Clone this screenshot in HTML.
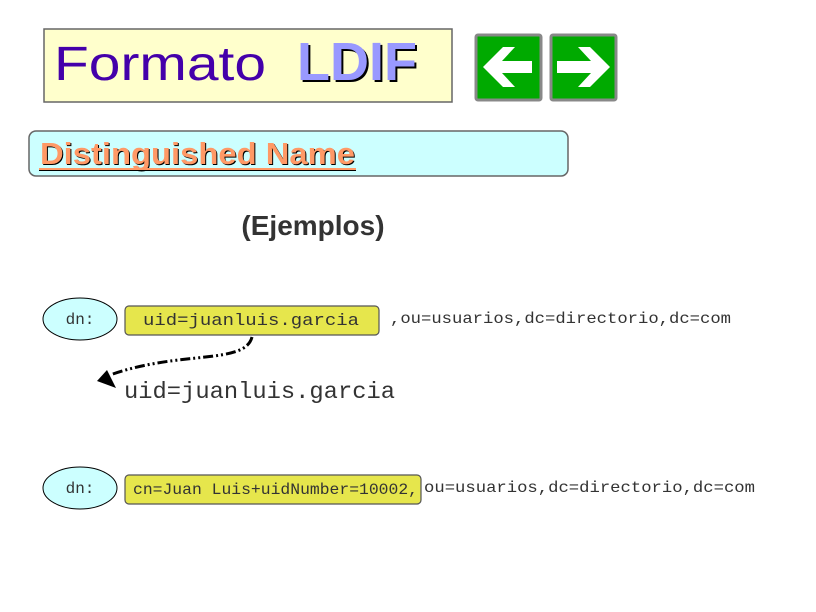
<!DOCTYPE html>
<html><head><meta charset="utf-8"><style>
html,body{margin:0;padding:0;background:#fff;width:816px;height:612px;overflow:hidden}
.m{font-family:"Liberation Mono","DejaVu Sans Mono",monospace}
.s{font-family:"Liberation Sans",sans-serif}
</style></head><body>
<svg width="816" height="612" viewBox="0 0 816 612" xmlns="http://www.w3.org/2000/svg">
<rect x="44" y="29" width="408" height="73" fill="#ffffcc" stroke="#666" stroke-width="1.5"/>
<text x="54" y="80" class="s" font-size="48" fill="#4400aa" textLength="212" lengthAdjust="spacingAndGlyphs">Formato</text>
<text x="299" y="82" class="s" font-size="54" font-weight="bold" fill="#000" textLength="120" lengthAdjust="spacingAndGlyphs">LDIF</text>
<text x="297" y="80" class="s" font-size="54" font-weight="bold" fill="#9999ff" textLength="120" lengthAdjust="spacingAndGlyphs">LDIF</text>
<rect x="476" y="35" width="65" height="65" rx="2" fill="#00aa00" stroke="#888" stroke-width="3"/>
<path d="M483,67 L503,47 L515,47 L502,61 L532,61 L532,73 L502,73 L515,87 L503,87 Z" fill="#fff"/>
<rect x="551" y="35" width="65" height="65" rx="2" fill="#00aa00" stroke="#888" stroke-width="3"/>
<path d="M610,67 L590,47 L578,47 L591,61 L557,61 L557,73 L591,73 L578,87 L590,87 Z" fill="#fff"/>
<rect x="29" y="131" width="539" height="45" rx="7" fill="#ccffff" stroke="#666" stroke-width="1.5"/>
<text x="41" y="165" class="s" font-size="31" font-weight="bold" fill="#000" textLength="315" lengthAdjust="spacingAndGlyphs">Distinguished Name</text>
<text x="40" y="164" class="s" font-size="31" font-weight="bold" fill="#ff9966" textLength="315" lengthAdjust="spacingAndGlyphs">Distinguished Name</text>
<rect x="39" y="168" width="317" height="2" fill="#ff9966"/>
<rect x="39" y="170" width="317" height="1" fill="#000"/>
<text x="313" y="235" text-anchor="middle" class="s" font-size="28" font-weight="bold" fill="#333">(Ejemplos)</text>

<ellipse cx="80" cy="319" rx="37" ry="21" fill="#ccffff" stroke="#000" stroke-width="1"/>
<text x="80" y="324" text-anchor="middle" class="m" font-size="16" fill="#333">dn:</text>
<rect x="125" y="306" width="254" height="29" rx="4" fill="#e6e64c" stroke="#555" stroke-width="1.2"/>
<text x="143" y="325" class="m" font-size="17" fill="#333" textLength="216" lengthAdjust="spacingAndGlyphs">uid=juanluis.garcia</text>
<text x="390" y="323" class="m" font-size="16" fill="#333" textLength="341" lengthAdjust="spacingAndGlyphs">,ou=usuarios,dc=directorio,dc=com</text>
<path d="M252,337 C245,365 180,350 110,375" fill="none" stroke="#000" stroke-width="3" stroke-dasharray="10,3,2,3,2,3"/>
<path d="M97,381 L107,370 L111,378 L116,388 Z" fill="#000"/>
<text x="124" y="398" class="m" font-size="23" fill="#333" textLength="271" lengthAdjust="spacingAndGlyphs">uid=juanluis.garcia</text>

<ellipse cx="80" cy="488" rx="37" ry="21" fill="#ccffff" stroke="#000" stroke-width="1"/>
<text x="80" y="493" text-anchor="middle" class="m" font-size="16" fill="#333">dn:</text>
<rect x="125" y="475" width="296" height="29" rx="4" fill="#e6e64c" stroke="#555" stroke-width="1.2"/>
<text x="133" y="494" class="m" font-size="16" fill="#333" textLength="285" lengthAdjust="spacingAndGlyphs">cn=Juan Luis+uidNumber=10002,</text>
<text x="424" y="492" class="m" font-size="16" fill="#333" textLength="331" lengthAdjust="spacingAndGlyphs">ou=usuarios,dc=directorio,dc=com</text>
</svg>
</body></html>
